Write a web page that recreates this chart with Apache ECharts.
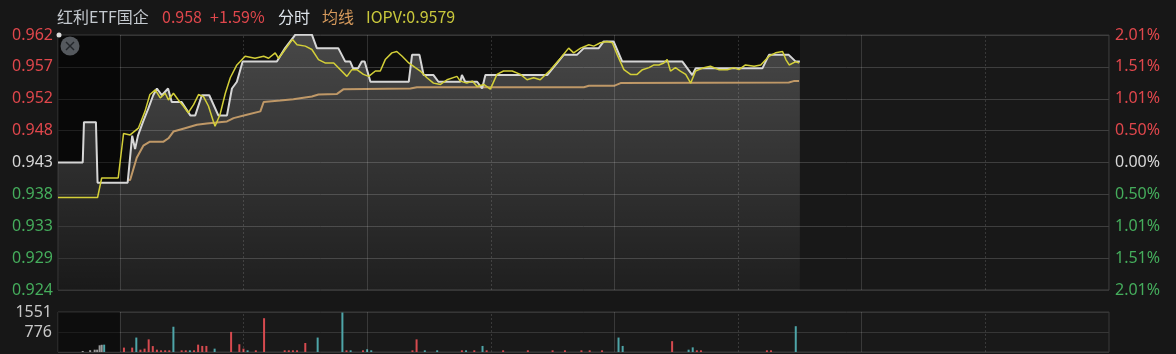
<!DOCTYPE html>
<html lang="zh-CN">
<head>
<meta charset="UTF-8">
<title>红利ETF国企 分时</title>
<script src="https://cdn.jsdelivr.net/npm/echarts@6/dist/echarts.min.js"></script>
<style>
  html, body { margin: 0; padding: 0; background: #171717; }
  #main { width: 1176px; height: 354px; }
</style>
</head>
<body>
<div id="main"></div>
<script>
// 昨收 / 涨跌幅范围
var prevClose = 0.943;
var pctRange = 2.01;

// 坐标轴刻度文字
var leftTicks = ['0.924', '0.929', '0.933', '0.938', '0.943', '0.948', '0.952', '0.957', '0.962'];
var rightTicks = ['2.01%', '1.51%', '1.01%', '0.50%', '0.00%', '0.50%', '1.01%', '1.51%', '2.01%'];
var volTicks = ['', '776', '1551'];

// 分钟序号 (0 = 9:15, 15 = 9:30, 135 = 11:30/13:00, 255 = 15:00)
var solidLines = [15, 75, 135, 195];
var dottedLines = [45, 105, 165, 225];

// 价格 [分钟, 价格]
var priceLine = [
  [0, 0.943], [6, 0.943], [6.3, 0.949], [9.2, 0.949], [9.6, 0.940], [16.9, 0.940],
  [18, 0.947], [18.7, 0.945], [19.4, 0.947], [20.6, 0.949], [21.9, 0.951], [23.1, 0.953],
  [24, 0.954], [25.2, 0.953], [26.7, 0.954], [27.6, 0.952], [30, 0.952], [32.1, 0.950],
  [33.3, 0.950], [34.9, 0.953], [36.7, 0.953], [38.9, 0.950], [41, 0.950], [42.2, 0.954],
  [43.4, 0.955], [44.8, 0.958], [53.1, 0.958], [55.1, 0.960], [57.6, 0.962], [61.6, 0.962],
  [62.8, 0.960], [68, 0.960], [69.7, 0.958], [70.9, 0.958], [71.6, 0.957], [72.8, 0.957],
  [73.7, 0.958], [74.4, 0.958], [75.8, 0.955], [85.1, 0.955], [85.9, 0.959], [87.7, 0.959],
  [88.7, 0.956], [91.1, 0.956], [92.3, 0.955], [97.6, 0.955], [98, 0.956], [98.8, 0.955],
  [101.7, 0.955], [102.9, 0.954], [103.7, 0.956], [118.7, 0.956], [122.7, 0.959], [125.9, 0.959],
  [127.6, 0.960], [131.2, 0.960], [132.4, 0.961], [134.8, 0.961], [136.9, 0.958], [151.5, 0.958],
  [153.9, 0.956], [154.7, 0.957], [170.9, 0.957], [172.5, 0.959], [177.3, 0.959], [179, 0.958],
  [180, 0.958]
];

// IOPV
var iopvLine = [
  [0, 0.9378], [9.6, 0.9378], [10.6, 0.9407], [14.6, 0.9407], [15.9, 0.9473], [17.5, 0.9471],
  [19.5, 0.9481], [21.1, 0.9506], [22.3, 0.9531], [23.6, 0.9538], [24.8, 0.9526], [26.0, 0.9533],
  [26.8, 0.9523], [28.0, 0.9533], [29.2, 0.9523], [30.4, 0.9514], [31.6, 0.9504], [32.9, 0.9516],
  [34.1, 0.9531], [35.3, 0.9528], [36.5, 0.9514], [37.7, 0.9491], [38.1, 0.9484], [39.3, 0.9501],
  [40.6, 0.9533], [41.8, 0.9556], [43.4, 0.9575], [44.2, 0.9580], [45.4, 0.9588], [47.8, 0.9585],
  [49.9, 0.9588], [51.1, 0.9585], [52.7, 0.9593], [53.5, 0.9585], [55.1, 0.9598], [56.9, 0.9613],
  [58.0, 0.9605], [60.0, 0.9603], [61.6, 0.9598], [63.2, 0.9583], [64.8, 0.9578], [66.9, 0.9578],
  [70.1, 0.9558], [71.3, 0.9568], [72.5, 0.9568], [74.1, 0.9561], [75.4, 0.9558], [77.0, 0.9566],
  [78.2, 0.9566], [79.4, 0.9583], [81.0, 0.9593], [82.2, 0.9595], [83.5, 0.9588], [85.1, 0.9578],
  [86.7, 0.9571], [87.9, 0.9566], [89.5, 0.9556], [91.1, 0.9548], [92.8, 0.9546], [94.4, 0.9553],
  [96.8, 0.9558], [97.6, 0.9551], [99.2, 0.9548], [100.5, 0.9551], [101.7, 0.9543], [103.3, 0.9546],
  [104.9, 0.9539], [106.5, 0.9561], [108.1, 0.9566], [110.2, 0.9566], [112.2, 0.9561], [113.8, 0.9553],
  [115.4, 0.9556], [117.0, 0.9553], [119.5, 0.9568], [121.9, 0.9585], [123.9, 0.9600], [125.1, 0.9593],
  [126.8, 0.9600], [128.8, 0.9605], [130.0, 0.9603], [131.6, 0.9608], [133.2, 0.9610], [134.5, 0.9608],
  [135.7, 0.9590], [137.3, 0.9568], [138.9, 0.9561], [140.5, 0.9561], [141.8, 0.9568], [143.4, 0.9571],
  [144.6, 0.9575], [145.8, 0.9575], [147.0, 0.9578], [147.8, 0.9583], [148.6, 0.9566], [149.8, 0.9571],
  [151.0, 0.9566], [152.3, 0.9561], [153.5, 0.9548], [154.7, 0.9566], [156.7, 0.9571], [158.3, 0.9573],
  [160.3, 0.9568], [162.4, 0.9568], [164.0, 0.9571], [165.2, 0.9568], [166.8, 0.9575], [168.9, 0.9573],
  [170.5, 0.9575], [172.5, 0.9588], [174.1, 0.9593], [175.8, 0.9595], [176.6, 0.9583], [177.4, 0.9575],
  [179.0, 0.9580], [179.8, 0.9578]
];

// 均线
var avgLine = [
  [16.9, 0.9404], [17.5, 0.9404], [19.1, 0.9437], [20.7, 0.9455], [22.3, 0.9461], [25.6, 0.9461],
  [26.8, 0.9466], [28.0, 0.9476], [30.8, 0.9481], [33.7, 0.9486], [36.1, 0.9488], [41.0, 0.9491],
  [42.6, 0.9496], [45.8, 0.9501], [49.1, 0.9506], [49.9, 0.9520], [53.9, 0.9522], [57.1, 0.9524],
  [61.6, 0.9528], [63.2, 0.9531], [67.7, 0.9532], [69.3, 0.9539], [85.5, 0.9540], [87.1, 0.9542],
  [127.6, 0.9542], [128.8, 0.9544], [134.9, 0.9544], [136.5, 0.9548], [177.3, 0.9549], [178.5, 0.9551],
  [179.8, 0.9551]
];

// 成交量 [分钟, 量, 方向 1涨 -1跌 0集合竞价]
var volumes = [
  [6, 40, 0], [7.8, 70, 0], [8.9, 90, 0], [9.5, 90, 0], [10.1, 260, 0], [10.6, 280, 0], [11.2, 285, -1],
  [16, 170, 1], [18, 170, 1], [19, 560, -1], [20, 90, 1], [21, 130, 1], [22, 490, 1], [23, 230, 1],
  [24, 90, 1], [25, 65, 1], [26, 65, 1], [27, 65, 1], [28, 980, -1], [30, 65, 1], [31, 65, 1],
  [32, 65, -1], [33, 65, 1], [34, 285, 1], [35, 235, 1], [36, 235, 1], [38, 130, -1], [42, 780, 1],
  [44, 300, 1], [45, 130, 1], [46, 65, -1], [48, 65, 1], [50, 1310, 1], [55, 65, 1], [56, 65, 1],
  [57, 65, 1], [58, 65, 1], [60, 350, 1], [63, 560, -1], [69, 1530, -1], [70, 65, 1], [71, 65, -1],
  [74, 65, 1], [75, 105, -1], [76, 65, -1], [86, 65, 1], [87, 490, 1], [89, 65, -1], [92, 65, -1],
  [98, 65, 1], [99, 65, -1], [101, 65, 1], [103, 235, -1], [104, 65, 1], [108, 65, 1], [114, 65, 1],
  [120, 65, 1], [123, 65, 1], [127, 65, 1], [129, 65, 1], [132, 65, 1], [136, 560, -1], [137, 235, -1],
  [149, 420, 1], [153, 90, -1], [154, 180, -1], [155, 65, 1], [156, 65, 1], [172, 65, 1], [173, 65, 1],
  [179, 1000, -1]
];

var RED = '#e0474c', GREEN = '#45ad5c', WHITE = '#d8d8d8';

// 价格 -> 刻度单位 (每格 pctRange/4 %)
function toTick(p) { return (p / prevClose - 1) * 100 / (pctRange / 4); }
function conv(arr) { return arr.map(function (d) { return [d[0], toTick(d[1])]; }); }

var dataEnd = priceLine[priceLine.length - 1][0];

var vLines = solidLines.map(function (x) {
  return { xAxis: x, lineStyle: { type: 'solid' } };
}).concat(dottedLines.map(function (x) {
  return { xAxis: x, lineStyle: { type: [2, 2] } };
}));

var volData = volumes.map(function (d) {
  return {
    value: [d[0], d[1]],
    itemStyle: { color: d[2] > 0 ? '#d64a4f' : (d[2] < 0 ? '#4ea5a8' : '#9a9a9a') }
  };
});

var labelColor = function (v) {
  return v > 0.01 ? RED : (v < -0.01 ? GREEN : WHITE);
};

var myChart = echarts.init(document.getElementById('main'), null, { renderer: 'canvas' });

var option = {
  backgroundColor: '#171717',
  animation: false,
  textStyle: { fontFamily: 'Noto Sans' },
  grid: [
    { left: 58, top: 35, width: 1051, height: 255, show: true,
      backgroundColor: '#0e0e0e', borderColor: '#3a3a3a', borderWidth: 1 },
    { left: 58, top: 312, width: 1051, height: 40, show: true,
      backgroundColor: '#191919', borderColor: '#3a3a3a', borderWidth: 1 }
  ],
  xAxis: [
    { type: 'value', gridIndex: 0, min: 0, max: 255,
      axisLine: { show: false }, axisTick: { show: false }, axisLabel: { show: false }, splitLine: { show: false } },
    { type: 'value', gridIndex: 1, min: 0, max: 255,
      axisLine: { show: false }, axisTick: { show: false }, axisLabel: { show: false }, splitLine: { show: false } }
  ],
  yAxis: [
    { type: 'value', gridIndex: 0, position: 'left', min: -4, max: 4, interval: 1,
      axisLine: { show: false }, axisTick: { show: false },
      axisLabel: {
        margin: 5, fontSize: 16, fontFamily: 'Noto Sans',
        formatter: function (v) { return leftTicks[Math.round(v) + 4]; },
        color: labelColor
      },
      splitLine: { lineStyle: { color: '#363636', width: 1 } } },
    { type: 'value', gridIndex: 0, position: 'right', min: -4, max: 4, interval: 1,
      axisLine: { show: false }, axisTick: { show: false },
      axisLabel: {
        margin: 6, fontSize: 16, fontFamily: 'Noto Sans',
        formatter: function (v) { return rightTicks[4 - Math.round(v)]; },
        color: labelColor
      },
      splitLine: { show: false } },
    { type: 'value', gridIndex: 1, min: 0, max: 1551, interval: 775.5,
      axisLine: { show: false }, axisTick: { show: false },
      axisLabel: {
        margin: 6, fontSize: 16, fontFamily: 'Noto Sans', color: '#c8c8c8',
        formatter: function (v) { return volTicks[Math.round(v / 775.5)]; }
      },
      splitLine: { lineStyle: { color: '#363636', width: 1 } } }
  ],
  series: [
    // 收盘后区域略亮
    {
      type: 'line', xAxisIndex: 0, yAxisIndex: 0, data: [], z: 1, silent: true,
      markArea: { silent: true, itemStyle: { color: 'rgba(255,255,255,0.045)' },
        data: [[{ xAxis: dataEnd }, { xAxis: 255 }]] }
    },
    // 价格面积
    {
      type: 'line', xAxisIndex: 0, yAxisIndex: 0, data: conv(priceLine), z: 2,
      symbol: 'none', silent: true, lineStyle: { width: 0 },
      areaStyle: {
        origin: 'start',
        color: new echarts.graphic.LinearGradient(0, 0, 0, 1, [
          { offset: 0, color: 'rgba(255,255,255,0.34)' },
          { offset: 1, color: 'rgba(255,255,255,0.10)' }
        ])
      }
    },
    // 集合竞价区域压暗
    {
      type: 'line', xAxisIndex: 0, yAxisIndex: 0, data: [], z: 3, silent: true,
      markArea: { silent: true, itemStyle: { color: 'rgba(0,0,0,0.4)' },
        data: [[{ xAxis: 0 }, { xAxis: 15 }]] }
    },
    {
      name: '均线', type: 'line', xAxisIndex: 0, yAxisIndex: 0, data: conv(avgLine), z: 4,
      symbol: 'none', lineStyle: { color: '#bf9867', width: 2 }
    },
    {
      name: '分时', type: 'line', xAxisIndex: 0, yAxisIndex: 0, data: conv(priceLine), z: 5,
      symbol: 'none', lineStyle: { color: '#d6d6d6', width: 2 }
    },
    {
      name: 'IOPV', type: 'line', xAxisIndex: 0, yAxisIndex: 0, data: conv(iopvLine), z: 6,
      symbol: 'none', lineStyle: { color: '#d3cf38', width: 1.5 },
      markLine: {
        silent: true, symbol: 'none', label: { show: false },
        lineStyle: { color: 'rgba(255,255,255,0.14)', width: 1 },
        data: vLines
      }
    },
    // 成交量
    {
      type: 'line', xAxisIndex: 1, yAxisIndex: 2, data: [], z: 1, silent: true,
      markArea: { silent: true, itemStyle: { color: 'rgba(0,0,0,0.45)' },
        data: [[{ xAxis: 0 }, { xAxis: 15 }]] },
      markLine: {
        silent: true, symbol: 'none', label: { show: false },
        lineStyle: { color: 'rgba(255,255,255,0.14)', width: 1 },
        data: vLines
      }
    },
    {
      name: '成交量', type: 'bar', xAxisIndex: 1, yAxisIndex: 2, data: volData, z: 3,
      barWidth: 2, silent: true
    }
  ],
  graphic: [
    { type: 'text', left: 57, top: 9, style: { text: '红利ETF国企', fill: '#c4c9cf', font: '16px "Noto Sans CJK SC"' } },
    { type: 'text', left: 162, top: 9, style: { text: '0.958', fill: RED, font: '16px "Noto Sans CJK SC"' } },
    { type: 'text', left: 210, top: 9, style: { text: '+1.59%', fill: RED, font: '16px "Noto Sans CJK SC"' } },
    { type: 'text', left: 278, top: 9, style: { text: '分时', fill: '#dde3ea', font: '16px "Noto Sans CJK SC"' } },
    { type: 'text', left: 322, top: 9, style: { text: '均线', fill: '#d69a5c', font: '16px "Noto Sans CJK SC"' } },
    { type: 'text', left: 366, top: 9, style: { text: 'IOPV:0.9579', fill: '#c9c83c', font: '16px "Noto Sans CJK SC"' } },
    { type: 'circle', shape: { cx: 59, cy: 35, r: 2.5 }, style: { fill: '#dcdcdc' }, z: 100 },
    { type: 'circle', shape: { cx: 70, cy: 46, r: 9.5 }, style: { fill: '#55595e' }, z: 100 },
    { type: 'line', shape: { x1: 66, y1: 42, x2: 74, y2: 50 }, style: { stroke: '#23262a', lineWidth: 1.5 }, z: 101 },
    { type: 'line', shape: { x1: 74, y1: 42, x2: 66, y2: 50 }, style: { stroke: '#23262a', lineWidth: 1.5 }, z: 101 }
  ]
};

myChart.setOption(option);
</script>
</body>
</html>
